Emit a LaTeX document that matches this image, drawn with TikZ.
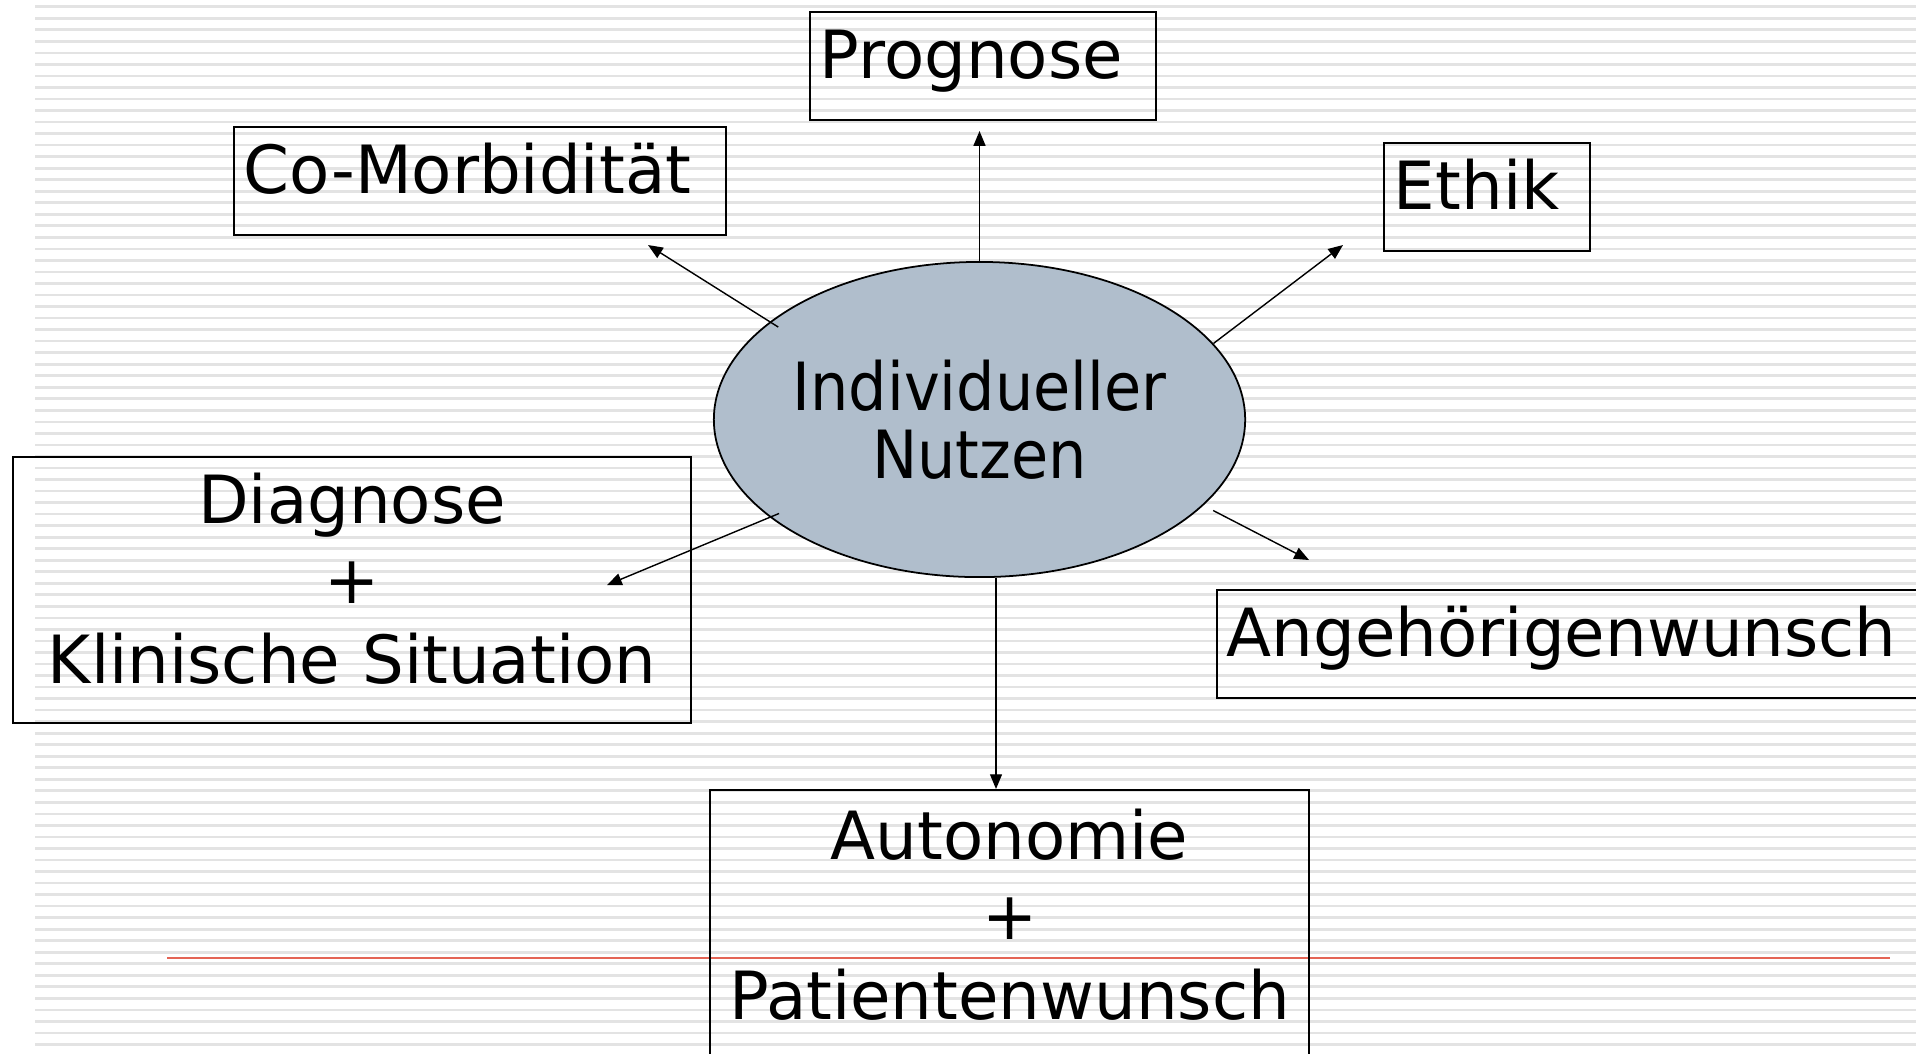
\documentclass[tikz,border=0pt]{standalone}
\usepackage{fontspec}
\setmainfont{DejaVu Sans}[FakeStretch=0.99]
\newfontfamily\ovalfont{DejaVu Sans}[FakeStretch=0.91]
\usetikzlibrary{shapes.geometric,arrows.meta}
\colorlet{streifen}{black!11}
\definecolor{ovalgrau}{RGB}{176,190,204}
\definecolor{linierot}{RGB}{228,100,85}
\tikzset{
    kasten/.style={draw,line width=0.5pt,anchor=north west,inner xsep=0.1cm,inner ysep=0pt,
        text height=0.67cm,text depth=0.41cm,align=left,
        font=\fontsize{18.9}{22.7}\selectfont},
    block/.style={kasten,align=center,text depth=1.99cm},
    oval/.style={ellipse,draw,line width=0.5pt,fill=ovalgrau,inner sep=0pt,
        minimum width=5.31cm,minimum height=3.15cm,align=center,
        font=\ovalfont\fontsize{18.9}{19.3}\selectfont},
    pfeil/.style={-{Triangle[length=4.2pt,width=3.4pt]},line width=0.4pt}
}
\begin{document}
\begin{tikzpicture}[x=0.01cm,y=-0.01cm]
    \clip (0,0) rectangle (1916,1053);
    \fill[white] (0,0) rectangle (1916,1053);
    \foreach \i in {0,...,90} {
        \fill[streifen] (35,5.4+11.53*\i) rectangle (1916,8.1+11.53*\i);
    }
    \draw[linierot,line width=0.45pt] (167,958) -- (1890,958);

    \node[oval] (nutzen) at (979.5,419.5) {Individueller\\Nutzen};

    \node[kasten,text width=3.26cm] (prog) at (809,11) {Prognose};
    \node[kasten,text width=4.72cm] (comorb) at (233,126) {Co-Morbidität};
    \node[kasten,text width=1.86cm] (ethik) at (1383,142) {Ethik};
    \node[kasten,text width=7cm] (angeh) at (1216,589) {Angehörigenwunsch};
    \node[block,text width=6.58cm] (diag) at (12,456) {Diagnose\\+\\Klinische Situation};
    \node[block,text width=5.79cm,text height=0.70cm,text depth=2.9cm] (auto) at (709,789)
        {Autonomie\\+\\Patientenwunsch};

    \coordinate (zprog) at (979.5,131);
    \coordinate (zcomorb) at (648,245);
    \coordinate (zethik) at (1343,245);
    \coordinate (zdiag) at (607,585);
    \coordinate (zangeh) at (1309,560);
    \coordinate (zauto) at (996,789);

    \draw[pfeil] (nutzen.north) -- (zprog);
    \draw[pfeil,shorten <=-0.1cm] (nutzen.155) -- (zcomorb);
    \draw[pfeil] (nutzen.18) -- (zethik);
    \draw[pfeil,shorten <=-0.1cm] (nutzen.205) -- (zdiag);
    \draw[pfeil,shorten <=0.11cm] (nutzen.339) -- (zangeh);
    \draw[pfeil] (zauto |- nutzen.south) -- (zauto);
\end{tikzpicture}
\end{document}
